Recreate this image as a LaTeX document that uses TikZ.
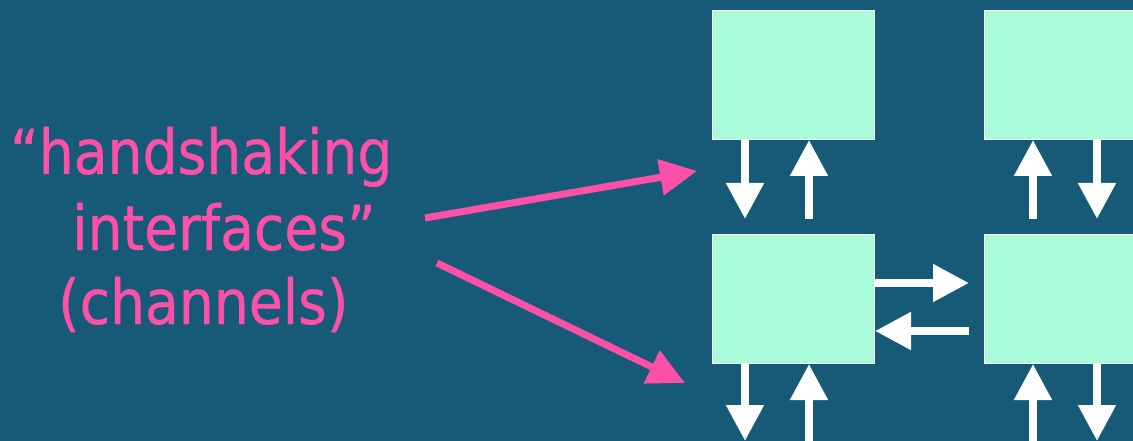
\documentclass[tikz,border=0pt]{standalone}
\usepackage{fontspec}
\newfontfamily\labelfont[FakeStretch=0.89,FakeBold=0.6]{DejaVu Sans}
\usetikzlibrary{arrows.meta,calc}
\definecolor{bg}{RGB}{22,90,120}
\definecolor{mint}{RGB}{169,252,217}
\definecolor{hot}{RGB}{255,80,168}
\tikzset{
  cell/.style={draw=white, line width=1pt, fill=mint, minimum width=162pt, minimum height=129pt, inner sep=0pt, anchor=north west},
  chan/.style={draw=white, line width=8pt, -{Triangle[length=36pt,width=36pt]}},
  pointer/.style={draw=hot, line width=7pt, -{Triangle[length=37pt,width=35pt]}},
  lbl/.style={text=hot, font=\labelfont\fontsize{62}{74}\selectfont, anchor=base west, inner sep=0pt}
}
\begin{document}
\begin{tikzpicture}[x=1pt,y=-1pt]
\useasboundingbox (0,0) rectangle (1133,441);
\clip (0,0) rectangle (1133,441);
\fill[bg] (0,0) rectangle (1133,441);
\node[cell] (TL) at (712,10) {};
\node[cell] (TR) at (984,10) {};
\node[cell] (BL) at (712,234) {};
\node[cell] (BR) at (984,234) {};
% vertical channels between top and bottom rows
\draw[chan] ([xshift=33pt]TL.south west) -- ([xshift=33pt,yshift=15pt]BL.north west);
\draw[chan] ([xshift=97pt,yshift=15pt]BL.north west) -- ([xshift=97pt]TL.south west);
\draw[chan] ([xshift=49pt,yshift=15pt]BR.north west) -- ([xshift=49pt]TR.south west);
\draw[chan] ([xshift=113pt]TR.south west) -- ([xshift=113pt,yshift=15pt]BR.north west);
% horizontal channels
\draw[chan] ([yshift=-49pt]BL.north east) -- ([xshift=-15pt,yshift=-49pt]BR.north west);
\draw[chan] ([xshift=-15pt,yshift=-97pt]BR.north west) -- ([yshift=-97pt]BL.north east);
% channels leaving the bottom row
\coordinate (b1) at (745,441);
\coordinate (b2) at (809,470);
\coordinate (b3) at (1033,470);
\coordinate (b4) at (1097,441);
\draw[chan] ([xshift=33pt]BL.south west) -- (b1);
\draw[chan] (b2) -- ([xshift=97pt]BL.south west);
\draw[chan] (b3) -- ([xshift=49pt]BR.south west);
\draw[chan] ([xshift=113pt]BR.south west) -- (b4);
% label
\node[lbl] (l1) at (10,174) {“handshaking};
\node[lbl] (l2) at (72,250) {interfaces”};
\node[lbl] (l3) at (58,324) {(channels)};
% pointers
\coordinate (p1s) at (425,218);
\coordinate (p1e) at (697,171);
\coordinate (p2s) at (437,263);
\coordinate (p2e) at (685,383);
\draw[pointer] (p1s) -- (p1e);
\draw[pointer] (p2s) -- (p2e);
\end{tikzpicture}
\end{document}
